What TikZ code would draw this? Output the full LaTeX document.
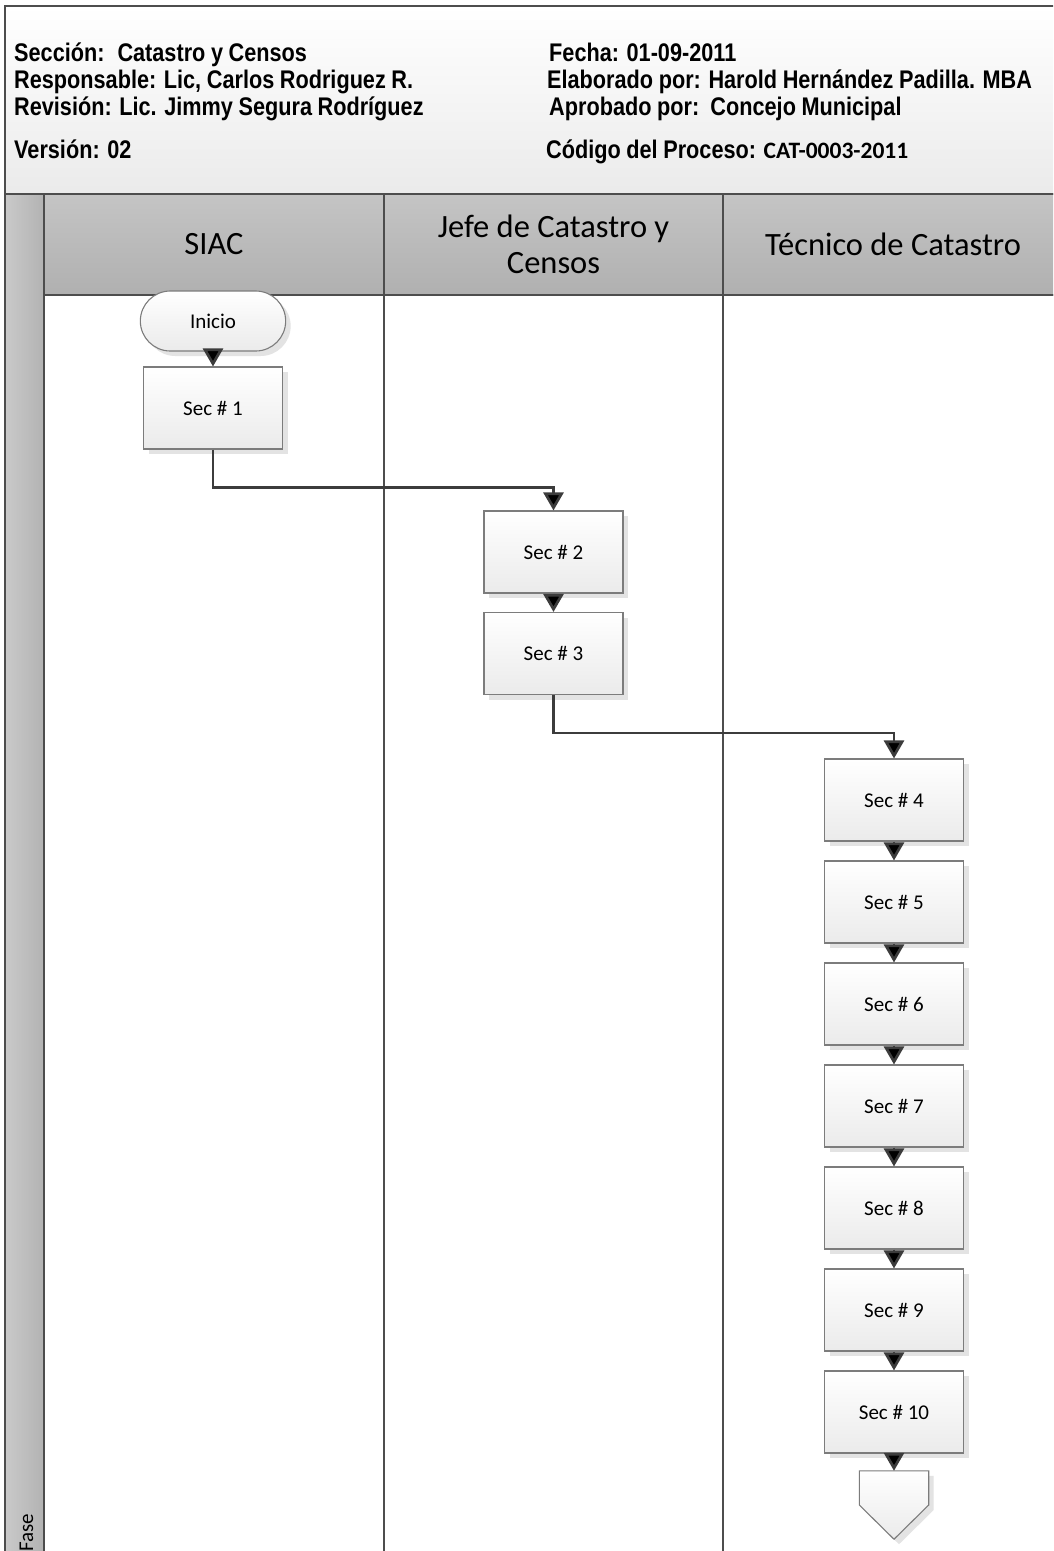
\documentclass[tikz,border=0pt]{standalone}
\usepackage{fontspec}
\setmainfont{Carlito}
\newfontfamily\narrowfont{Liberation Sans}[FakeStretch=0.85]
\newcommand\infofont{\narrowfont\bfseries\fontsize{25.5}{30}\selectfont\spaceskip=5.6pt\relax}
\usetikzlibrary{positioning}
\usetikzlibrary{arrows.meta}
\usetikzlibrary{shapes.misc}
\usetikzlibrary{shadows}

\definecolor{frameline}{HTML}{4D4D4D}
\definecolor{flowline}{HTML}{3C3C3C}
\definecolor{boxline}{HTML}{7C7C7C}

\tikzset{
  boxfill/.style={draw=boxline,line width=1.1pt,top color=white,bottom color=black!8,
    drop shadow={shadow xshift=5pt,shadow yshift=-5pt,fill=black!11,opacity=1}},
  proc/.style={boxfill,minimum width=139pt,minimum height=82pt,
    font=\fontsize{21}{25}\selectfont},
  term/.style={proc,rounded rectangle,minimum width=152pt,minimum height=60pt},
  lanehead/.style={draw=frameline,line width=2pt,top color=black!23,bottom color=black!31,
    minimum width=339.5pt,minimum height=101pt,align=center,
    font=\fontsize{32.5}{36}\selectfont},
  info/.style={anchor=base west,inner sep=0pt,font=\infofont},
  flow/.style={draw=flowline,line width=2.7pt,-{Triangle[length=18pt,width=20pt]}},
  elbow/.style={to path={(\tikztostart.south) -- ++(0,38) -| (\tikztotarget.north)}}
}

\begin{document}
\begin{tikzpicture}[x=1pt,y=-1pt,node distance=102pt,on grid]
    \useasboundingbox (0,0) rectangle (1053,1551);
    \clip (0,0) rectangle (1053,1551);
    \fill[white] (0,0) rectangle (1053,1551);
    % header band
    \draw[frameline,line width=2pt,top color=white,bottom color=black!8] (5,6) rectangle (1075,194);
    \node[info] (seccion)     at (14,61)   {Sección:\hspace{13pt}Catastro y Censos};
    \node[info] (responsable) at (14,88)   {Responsable: Lic, Carlos Rodriguez R.};
    \node[info] (revision)    at (14,115)  {Revisión: Lic. Jimmy Segura Rodríguez};
    \node[info] (version)     at (14,158)  {Versión: 02};
    \node[info] (fecha)       at (549,61)  {Fecha: 01-09-2011};
    \node[info] (elaborado)   at (547,88)  {Elaborado por: Harold Hernández Padilla. MBA};
    \node[info] (aprobado)    at (549,115) {Aprobado por:\ \ Concejo Municipal};
    \node[info] (codigo)      at (546,158) {Código del Proceso: {\normalfont\bfseries\fontsize{23.5}{28}\selectfont CAT-0003-2011}};
    % phase column
    \draw[frameline,line width=2pt,left color=black!21,right color=black!30] (5,194) rectangle (44,1575);
    \node[rotate=90,anchor=base west,inner sep=0pt,font=\fontsize{21}{25}\selectfont] (fase) at (33,1552) {Fase};
    % lanes
    \draw[frameline,line width=2pt] (44,295) rectangle (384,1575);
    \draw[frameline,line width=2pt] (384,295) rectangle (723,1575);
    \draw[frameline,line width=2pt] (723,295) rectangle (1063,1575);
    \node[lanehead] (siac)                       at (214,244.5) {SIAC};
    \node[lanehead] (jefe)    [right=339.5pt of siac] {Jefe de Catastro y\\Censos};
    \node[lanehead] (tecnico) [right=339.5pt of jefe] {Técnico de Catastro};
    % SIAC
    \node[term] (inicio) at (213,321) {Inicio};
    \node[proc] (sec1)   at (213,408) {Sec \# 1};
    % Jefe
    \node[proc] (sec2)   at (553.5,552)            {Sec \# 2};
    \node[proc] (sec3)   [below=101.5pt of sec2]   {Sec \# 3};
    % Tecnico
    \node[proc] (sec4)   at (894,800)              {Sec \# 4};
    \node[proc] (sec5)   [below=of sec4]           {Sec \# 5};
    \node[proc] (sec6)   [below=of sec5]           {Sec \# 6};
    \node[proc] (sec7)   [below=of sec6]           {Sec \# 7};
    \node[proc] (sec8)   [below=of sec7]           {Sec \# 8};
    \node[proc] (sec9)   [below=of sec8]           {Sec \# 9};
    \node[proc] (sec10)  [below=of sec9]           {Sec \# 10};
    \node[minimum width=69pt,minimum height=68pt,inner sep=0pt] (fin) [below=93pt of sec10] {};
    \draw[boxfill] (fin.north west) -- (fin.north east) -- (fin.east) -- (fin.south) -- (fin.west) -- cycle;
    % connectors
    \path[flow] (inicio) edge         (sec1)
                (sec1)   edge [elbow] (sec2)
                (sec2)   edge         (sec3)
                (sec3)   edge [elbow] (sec4)
                (sec4)   edge         (sec5)
                (sec5)   edge         (sec6)
                (sec6)   edge         (sec7)
                (sec7)   edge         (sec8)
                (sec8)   edge         (sec9)
                (sec9)   edge         (sec10)
                (sec10)  edge         (fin);
\end{tikzpicture}
\end{document}
